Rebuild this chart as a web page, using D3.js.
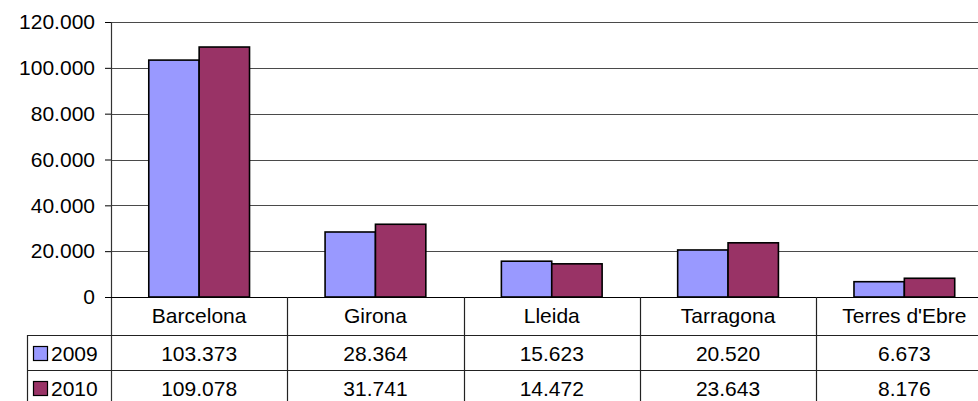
<!DOCTYPE html>
<html>
<head>
<meta charset="utf-8">
<script src="https://cdn.jsdelivr.net/npm/d3@7"></script>
<style>
  html, body { margin: 0; padding: 0; background: #fff; overflow: hidden; }
  svg { display: block; }
  text { font-family: "Liberation Sans", Arial, sans-serif; fill: #000; }
</style>
</head>
<body>
<svg id="chart" width="978" height="401"></svg>
<script>
const categories = ["Barcelona", "Girona", "Lleida", "Tarragona", "Terres d'Ebre"];
const seriesNames = ["2009", "2010"];
const values2009 = [103373, 28364, 15623, 20520, 6673];
const values2010 = [109078, 31741, 14472, 23643, 8176];
const yTicks = [0, 20000, 40000, 60000, 80000, 100000, 120000];
const colors = ["#9999FF", "#993366"];

(function () {
const series = [values2009, values2010];

const locale = d3.formatLocale({ decimal: ",", thousands: ".", grouping: [3], currency: ["", "€"] });
const fmt = locale.format(",d");

const svg = d3.select("#chart");
const plotLeft = 111, plotTop = 22, base = 297, bandW = 176.3;
const plotRight = plotLeft + bandW * categories.length;
const rowH = [38, 35, 35];
const tableLeft = 27;
const fontSize = 21;

const x = d3.scaleBand().domain(categories).range([plotLeft, plotRight]).paddingInner(0).paddingOuter(0);
const y = d3.scaleLinear().domain([0, 120000]).range([base, plotTop]);

// gap width 150% => 2 bars + 1.5 gap per category
const barW = x.bandwidth() / 3.5;
const x1 = d3.scaleBand().domain(seriesNames).range([0, barW * 2]);

// gridlines
svg.append("g").selectAll("line").data(yTicks).join("line")
  .attr("x1", plotLeft).attr("x2", plotRight)
  .attr("y1", d => Math.round(y(d)) + 0.5).attr("y2", d => Math.round(y(d)) + 0.5)
  .attr("stroke", "#4a4a4a").attr("stroke-width", 1.2);

// bars
const groups = svg.append("g").selectAll("g").data(categories).join("g")
  .attr("transform", c => `translate(${x(c) + barW * 0.75},0)`);
groups.selectAll("rect").data((c, i) => seriesNames.map((s, j) => ({ s, v: series[j][i], j })))
  .join("rect")
  .attr("x", d => x1(d.s))
  .attr("width", x1.bandwidth())
  .attr("y", d => y(d.v))
  .attr("height", d => base - y(d.v))
  .attr("fill", d => colors[d.j])
  .attr("stroke", "#000").attr("stroke-width", 1.6);

// y axis
const yAxis = d3.axisLeft(y).tickValues(yTicks).tickFormat(fmt).tickSize(6).tickPadding(10);
const ag = svg.append("g").attr("transform", `translate(${plotLeft},0)`).call(yAxis);
ag.select(".domain").remove();
ag.selectAll(".tick line").attr("stroke", "#000").attr("stroke-width", 1);
ag.selectAll(".tick text").attr("font-size", fontSize).attr("font-family", "Liberation Sans, Arial, sans-serif").attr("fill", "#000");

const tableBottom = base + rowH[0] + rowH[1] + rowH[2];
svg.append("line").attr("x1", plotLeft + 0.5).attr("x2", plotLeft + 0.5).attr("y1", plotTop).attr("y2", tableBottom)
  .attr("stroke", "#333").attr("stroke-width", 1.2);

// data table
const rowTop = [base, base + rowH[0], base + rowH[0] + rowH[1]];
const tg = svg.append("g");
tg.append("line").attr("x1", plotLeft).attr("x2", plotRight).attr("y1", base + 0.5).attr("y2", base + 0.5)
  .attr("stroke", "#000").attr("stroke-width", 1.2);
[rowTop[1], rowTop[2]].forEach(yy => {
  tg.append("line").attr("x1", tableLeft).attr("x2", plotRight).attr("y1", yy + 0.5).attr("y2", yy + 0.5)
    .attr("stroke", "#222").attr("stroke-width", 1.2);
});
tg.append("line").attr("x1", tableLeft + 0.5).attr("x2", tableLeft + 0.5).attr("y1", rowTop[1]).attr("y2", tableBottom)
  .attr("stroke", "#222").attr("stroke-width", 1.2);
tg.selectAll("line.v").data(categories.slice(1)).join("line").attr("class", "v")
  .attr("x1", c => Math.round(x(c)) + 0.5).attr("x2", c => Math.round(x(c)) + 0.5)
  .attr("y1", base).attr("y2", tableBottom)
  .attr("stroke", "#222").attr("stroke-width", 1.2);

tg.selectAll("text.cat").data(categories).join("text").attr("class", "cat")
  .attr("x", c => x(c) + x.bandwidth() / 2).attr("y", base + 26)
  .attr("text-anchor", "middle").attr("font-size", fontSize).text(c => c);

series.forEach((vals, j) => {
  tg.selectAll(`text.v${j}`).data(vals).join("text").attr("class", `v${j}`)
    .attr("x", (v, i) => x(categories[i]) + x.bandwidth() / 2)
    .attr("y", rowTop[j + 1] + 26)
    .attr("text-anchor", "middle").attr("font-size", fontSize).text(v => fmt(v));
  tg.append("rect").attr("x", 33.5).attr("y", rowTop[j + 1] + 11.5).attr("width", 14).attr("height", 14)
    .attr("fill", colors[j]).attr("stroke", "#000").attr("stroke-width", 1.2);
  tg.append("text").attr("x", 51).attr("y", rowTop[j + 1] + 26).attr("font-size", fontSize).text(seriesNames[j]);
});
})();
</script>
</body>
</html>
